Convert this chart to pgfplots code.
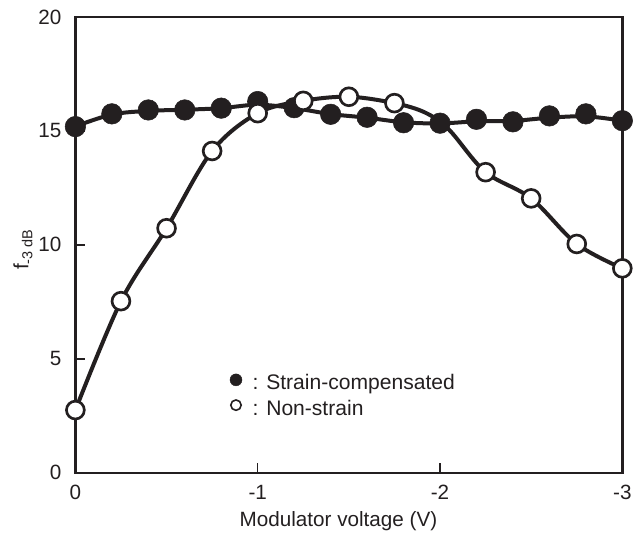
\documentclass[border=0pt]{standalone}
\usepackage{fontspec}
\setmainfont{Liberation Sans}
\usepackage{pgfplots}
\pgfplotsset{compat=1.18}
\definecolor{ink}{HTML}{231F20}
\begin{document}
\begin{tikzpicture}
\path[use as bounding box] (-56.55pt,-47.5pt) rectangle (424.2pt,354.55pt);
\begin{axis}[
  scale only axis, width=410.2pt, height=341.8pt,
  xmin=-3, xmax=0, ymin=0, ymax=20, x dir=reverse,
  xtick={0,-1,-2,-3}, xticklabels={0,-1,-2,-3},
  ytick={0,5,10,15,20}, yticklabels={0,5,10,15,20},
  tick pos=left, tick align=inside, major tick length=7.5pt,
  tick style={line width=1.1pt, ink},
  axis line style={line width=1.8pt, ink},
  ticklabel style={font=\fontsize{15.5}{18}\selectfont, text=ink},
  xticklabel style={yshift=-5.5pt},
  yticklabel style={xshift=-7pt},
  xlabel={Modulator voltage (V)},
  xlabel style={font=\fontsize{15.5}{18}\selectfont, text=ink, at={(axis description cs:0.481,0)}, anchor=center, yshift=-36.5pt},
  ylabel={f\textsubscript{-3 dB}},
  ylabel style={font=\fontsize{15.5}{18}\selectfont, text=ink, at={(axis description cs:-0.0958,0.49)}, anchor=center},
  legend style={draw=none, fill=none, inner sep=0pt, outer sep=0pt,
    at={(axis cs:-0.848,3.33)}, anchor=west, row sep=4pt,
    font=\fontsize{15.8}{18}\selectfont, text=ink,
    nodes={inner sep=0pt, text height=11pt, text depth=3.5pt}},
  legend cell align=left,
  legend image code/.code={\draw[#1] plot coordinates {(4.5pt,3.8pt)}; \path[draw=none,fill=none] (0pt,0pt) rectangle (17pt,0pt);},
]
% curves
\addplot[ink, line width=3pt, smooth, tension=0.55, forget plot] coordinates {
 (0,15.2) (-0.2,15.72) (-0.4,15.88) (-0.6,15.93) (-0.8,16.0) (-1.0,16.15) (-1.2,16.0)
 (-1.4,15.74) (-1.6,15.58) (-1.8,15.38) (-2.0,15.33) (-2.2,15.42) (-2.4,15.44)
 (-2.6,15.58) (-2.8,15.64) (-3.0,15.45)};
\addplot[ink, line width=3pt, smooth, tension=0.55, forget plot] coordinates {
 (0,2.75) (-0.25,7.53) (-0.5,10.73) (-0.75,14.12) (-1.0,15.78) (-1.25,16.32)
 (-1.5,16.5) (-1.75,16.22) (-1.92,15.8) (-2.05,15.05) (-2.25,13.19) (-2.5,12.04)
 (-2.75,10.04) (-3,8.97)};
% Strain-compensated
\addplot[only marks, mark=*, mark size=7.7pt, mark options={fill=ink, draw=ink, line width=0.4pt}, forget plot] coordinates {
 (0,15.19) (-0.2,15.75) (-0.4,15.92) (-0.6,15.92) (-0.8,16.0) (-1.0,16.29) (-1.2,16.02)
 (-1.4,15.73) (-1.6,15.6) (-1.8,15.36) (-2.0,15.34) (-2.2,15.51) (-2.4,15.4)
 (-2.6,15.66) (-2.8,15.75) (-3.0,15.45)};
% Non-strain
\addplot[only marks, mark=*, mark size=6.7pt, mark options={fill=white, draw=ink, line width=2pt}, forget plot] coordinates {
 (0,2.75) (-0.25,7.53) (-0.5,10.73) (-0.75,14.12) (-1.0,15.78) (-1.25,16.32)
 (-1.5,16.5) (-1.75,16.22) (-2.25,13.19) (-2.5,12.04) (-2.75,10.04) (-3,8.97)};
\addlegendimage{only marks, mark=*, mark size=4.5pt, mark options={fill=ink, draw=ink, line width=0.3pt}}
\addlegendentry{: Strain-compensated}
\addlegendimage{only marks, mark=*, mark size=3.9pt, mark options={fill=white, draw=ink, line width=1.2pt}}
\addlegendentry{: Non-strain}
\end{axis}
\end{tikzpicture}
\end{document}
